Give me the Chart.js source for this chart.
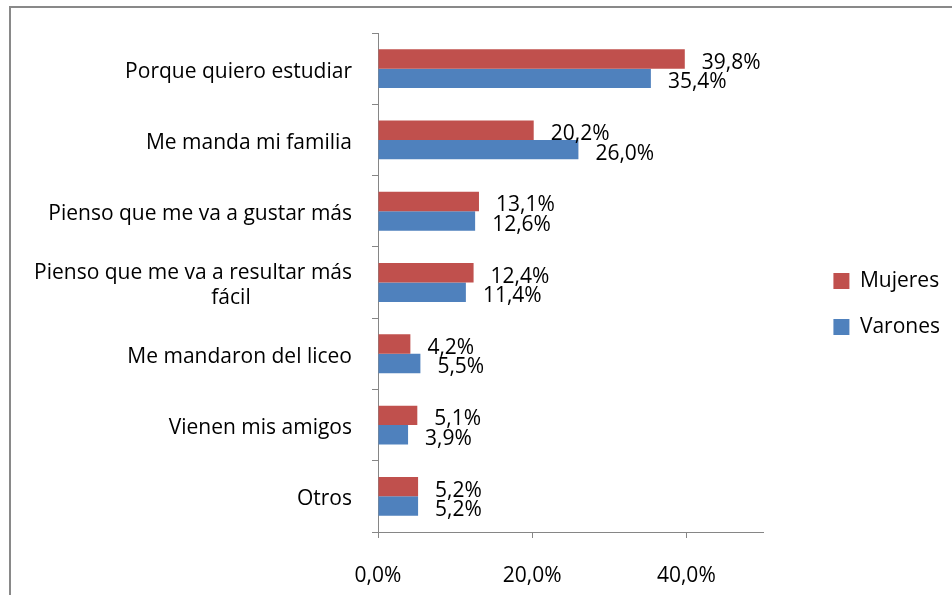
<!DOCTYPE html>
<html>
<head>
<meta charset="utf-8">
<script src="https://cdn.jsdelivr.net/npm/chart.js@4"></script>
<style>
html, body { margin: 0; padding: 0; background: #fff; }
#wrap { position: relative; width: 952px; height: 595px; overflow: hidden; }
#frame { position: absolute; left: 9px; top: 6px; width: 1000px; height: 1000px; border: 2px solid #898989; }
canvas { position: absolute; left: 0; top: 0; }
</style>
</head>
<body>
<div id="wrap">
  <div id="frame"></div>
  <canvas id="chart" width="952" height="595"></canvas>
</div>
<script>
// datos
const categories = [
  ["Porque quiero estudiar"],
  ["Me manda mi familia"],
  ["Pienso que me va a gustar más"],
  ["Pienso que me va a resultar más", "fácil"],
  ["Me mandaron del liceo"],
  ["Vienen mis amigos"],
  ["Otros"]
]
const mujeres = [39.8, 20.2, 13.1, 12.4, 4.2, 5.1, 5.2]
const varones = [35.4, 26.0, 12.6, 11.4, 5.5, 3.9, 5.2]
const xTicks = [0, 20, 40]
const xMax = 50

const FONT = "Open Sans"
const SIZE = 21
const AXIS = "#868686"

function pct(v) {
  return v.toFixed(1).replace(".", ",") + "%"
}

// etiquetas del eje de categorias (la linea "fácil" va centrada aparte)
const yLabels = {
  id: "yLabels",
  afterDraw(chart) {
    const ctx = chart.ctx
    const y = chart.scales.y
    const right = y.right - 26
    ctx.save()
    ctx.font = SIZE + "px " + FONT
    ctx.fillStyle = "#000"
    ctx.textBaseline = "middle"
    categories.forEach((lines, i) => {
      const cy = y.getPixelForValue(i) + 3
      const top = cy - (lines.length - 1) * 25 / 2
      lines.forEach((t, j) => {
        if (j === 0) {
          ctx.textAlign = "right"
          ctx.fillText(t, right, top)
        } else {
          ctx.textAlign = "center"
          ctx.fillText(t, right - 121, top + j * 25)
        }
      })
    })
    ctx.restore()
  }
}

// valores al final de cada barra
const barValues = {
  id: "barValues",
  afterDatasetsDraw(chart) {
    const ctx = chart.ctx
    ctx.save()
    ctx.font = SIZE + "px " + FONT
    ctx.fillStyle = "#000"
    ctx.textAlign = "left"
    ctx.textBaseline = "middle"
    chart.data.datasets.forEach((ds, di) => {
      chart.getDatasetMeta(di).data.forEach((bar, i) => {
        ctx.fillText(pct(ds.data[i]), bar.x + 17, bar.y + 4)
      })
    })
    ctx.restore()
  }
}

// mueve la leyenda un poco a la derecha
const legendShift = {
  id: "legendShift",
  afterLayout(chart) {
    const lg = chart.legend
    lg.left += 45
    lg.right += 45
    lg.top -= 10
    lg.bottom -= 10
  }
}

new Chart(document.getElementById("chart"), {
  type: "bar",
  data: {
    labels: categories.map(l => l.join(" ")),
    datasets: [
      { label: "Mujeres", data: mujeres, backgroundColor: "#C0504D" },
      { label: "Varones", data: varones, backgroundColor: "#4F81BD" }
    ]
  },
  options: {
    indexAxis: "y",
    responsive: false,
    animation: false,
    devicePixelRatio: 1,
    categoryPercentage: 0.545,
    barPercentage: 1,
    layout: { padding: { top: 33, right: 47, bottom: 0, left: 0 } },
    scales: {
      x: {
        type: "linear",
        min: 0,
        max: xMax,
        afterBuildTicks: s => { s.ticks = xTicks.map(v => ({ value: v })) },
        afterFit: s => { s.height = 63 },
        ticks: {
          callback: v => pct(v),
          font: { family: FONT, size: SIZE },
          color: "#000",
          padding: 25,
          maxRotation: 0
        },
        grid: { drawOnChartArea: false, drawTicks: true, tickLength: 6, color: AXIS },
        border: { color: AXIS, width: 1 }
      },
      y: {
        type: "category",
        afterFit: s => { s.width = 378 },
        ticks: { display: false },
        grid: { offset: true, drawOnChartArea: false, drawTicks: true, tickLength: 6, color: AXIS },
        border: { color: AXIS, width: 1 }
      }
    },
    plugins: {
      legend: {
        position: "right",
        labels: {
          font: { family: FONT, size: SIZE },
          color: "#000",
          boxWidth: 16,
          boxHeight: 16,
          padding: 25
        }
      },
      tooltip: { enabled: false }
    }
  },
  plugins: [yLabels, barValues, legendShift]
})
</script>
</body>
</html>
